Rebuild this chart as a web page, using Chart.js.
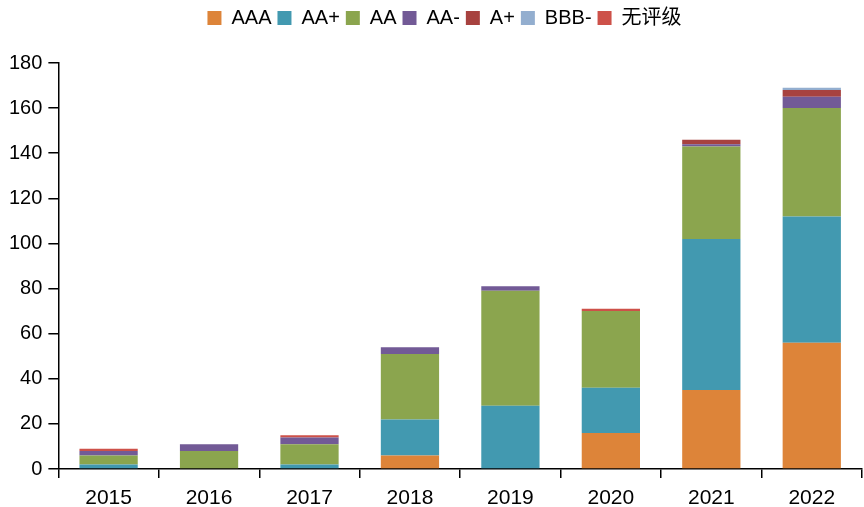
<!DOCTYPE html>
<html><head><meta charset="utf-8">
<script src="https://cdn.jsdelivr.net/npm/chart.js@4"></script>
<style>html,body{margin:0;padding:0;background:#fff}canvas{display:block}</style>
</head><body>
<canvas id="c" width="864" height="507"></canvas>
<script>
const years = ["2015","2016","2017","2018","2019","2020","2021","2022"];
const AAA   = [0, 0, 0, 6, 0, 16, 35, 56];
const AAp   = [2, 0, 2, 16, 28, 20, 67, 56];
const AA    = [4, 8, 9, 29, 51, 34, 41, 48];
const AAm   = [2, 3, 3, 3, 2, 0, 1, 5];
const Ap    = [0, 0, 0, 0, 0, 0, 2, 3];
const BBBm  = [0, 0, 0, 0, 0, 0, 0, 1];
const NR    = [1, 0, 1, 0, 0, 1, 0, 0];
const yTicks = [0,20,40,60,80,100,120,140,160,180];

const FONT = '"Liberation Sans", Arial, "Noto Sans CJK SC", sans-serif';
const series = [
  ["AAA", AAA, "#dd8439"],
  ["AA+", AAp, "#4299b0"],
  ["AA", AA, "#8ba54e"],
  ["AA-", AAm, "#725a96"],
  ["A+", Ap, "#a7423f"],
  ["BBB-", BBBm, "#93aecf"],
  ["无评级", NR, "#cd5149"]
];
const legendGap = {
  id: 'legendGap',
  beforeInit(chart) {
    const fit = chart.legend.fit;
    chart.legend.fit = function() { fit.call(this); this.height += 25; };
  },
  afterLayout(chart) {
    chart.legend.left += 12;
    chart.legend.right += 12;
  }
};
new Chart(document.getElementById('c'), {
  type: 'bar',
  data: {
    labels: years,
    datasets: series.map(s => ({label: s[0], data: s[1], backgroundColor: s[2], borderWidth: 0,
      categoryPercentage: 1, barPercentage: 0.58}))
  },
  plugins: [legendGap],
  options: {
    responsive: false, animation: false,
    layout: {padding: {left: 3, right: 2, top: 2, bottom: 0}},
    plugins: {
      legend: {position: 'top', labels: {font: {family: FONT, size: 20}, color: '#000',
        boxWidth: 14, boxHeight: 14, padding: 6}},
      tooltip: {enabled: false}
    },
    scales: {
      x: {stacked: true,
        afterFit: s => { s.height = 38; },
        grid: {offset: true, drawOnChartArea: false, drawTicks: true, tickLength: 9, color: '#000', lineWidth: 1.5},
        border: {color: '#000', width: 1.5},
        ticks: {font: {family: FONT, size: 21, lineHeight: 1}, color: '#000', padding: 10, maxRotation: 0}},
      y: {stacked: true, min: 0, max: 180,
        afterBuildTicks: ax => { ax.ticks = yTicks.map(v => ({value: v})); },
        grid: {drawOnChartArea: false, drawTicks: true, tickLength: 10, color: '#000', lineWidth: 1.5},
        border: {color: '#000', width: 1.5},
        ticks: {font: {family: FONT, size: 20}, color: '#000', padding: 6}}
    }
  }
});
</script>
</body></html>
